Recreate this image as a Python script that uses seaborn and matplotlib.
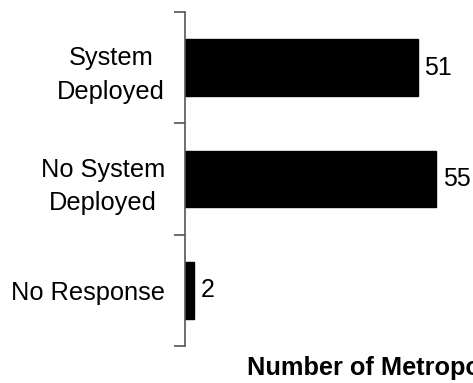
import numpy as np
import seaborn as sns
import matplotlib.pyplot as plt

# data
categories = ["System\nDeployed", "No System\nDeployed", "No Response"]
counts = [51, 55, 2]
xlabel = "Number of Metropolitan Areas"

sns.set_style("white")
plt.rcParams["font.family"] = ["Liberation Sans", "DejaVu Sans"]
plt.rcParams["text.color"] = "black"
plt.rcParams["ytick.labelcolor"] = "black"
plt.rcParams["axes.labelcolor"] = "black"

fig = plt.figure(figsize=(4.73, 3.83), dpi=100)
# axes placed so the spine sits at x=185px, top 12px, bottom 346px
ax = fig.add_axes([185 / 473, 1 - 346 / 383, (458.6 - 185) / 473, 334 / 383])

sns.barplot(x=counts, y=categories, orient="h", color="black", width=0.51,
            saturation=1, ax=ax)
for p in ax.patches:
    p.set_edgecolor("black")

ax.bar_label(ax.containers[0], padding=5, fontsize=18, color="black")

ax.set_xlim(0, 60)
ax.set_ylim(2.5, -0.5)

# tick marks between categories, labels at the category centres
ax.set_yticks([-0.5, 0.5, 1.5, 2.5])
ax.set_yticklabels([])
ax.set_yticks([0, 1, 2], minor=True)
ax.set_yticklabels(categories, minor=True, fontsize=18.3)
ax.tick_params(axis="y", which="major", left=True, length=8, width=1.2,
               color="#555555", direction="out")
ax.tick_params(axis="y", which="minor", left=True, length=0, pad=14.4)
for lbl in ax.get_yticklabels(minor=True):
    lbl.set_multialignment("center")
    lbl.set_linespacing(1.5)
    lbl.set_color("black")

ax.set_xticks([])
sns.despine(ax=ax, top=True, right=True, bottom=True)
ax.spines["left"].set_color("#555555")
ax.spines["left"].set_linewidth(1.2)

ax.set_xlabel(xlabel, fontsize=18.3, fontweight="bold", ha="left",
              va="baseline", color="black")
ax.xaxis.set_label_coords((247 - 185) / (458.6 - 185), (346 - 375) / 334)
ax.set_ylabel("")

fig.savefig("out.png", dpi=100)
